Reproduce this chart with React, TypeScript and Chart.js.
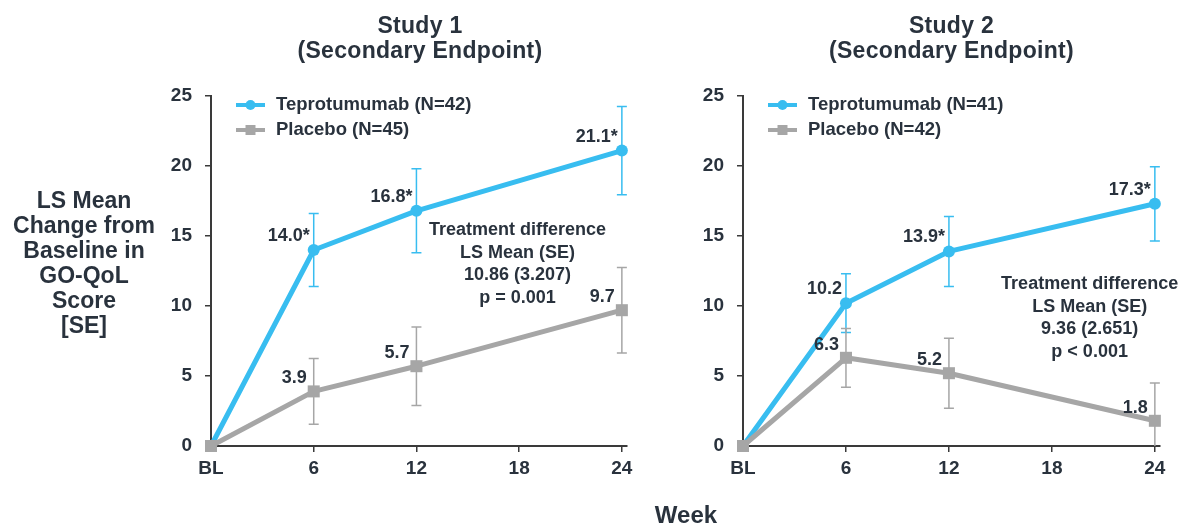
import React, { useEffect, useRef } from 'react';
import { Chart, registerables } from 'chart.js';

Chart.register(...registerables);

// ---------- data ----------
const WEEKS = [0, 6, 12, 24];
const X_TICKS = [0, 6, 12, 18, 24];
const X_TICK_LABELS = ['BL', '6', '12', '18', '24'];
const Y_TICKS = [0, 5, 10, 15, 20, 25];

const S1_TEP = [0, 14.0, 16.8, 21.1];
const S1_TEP_SE = [0, 2.6, 3.0, 3.15];
const S1_TEP_LABELS = ['', '14.0*', '16.8*', '21.1*'];
const S1_PBO = [0, 3.9, 5.7, 9.7];
const S1_PBO_SE = [0, 2.35, 2.8, 3.05];
const S1_PBO_LABELS = ['', '3.9', '5.7', '9.7'];

const S2_TEP = [0, 10.2, 13.9, 17.3];
const S2_TEP_SE = [0, 2.1, 2.5, 2.65];
const S2_TEP_LABELS = ['', '10.2', '13.9*', '17.3*'];
const S2_PBO = [0, 6.3, 5.2, 1.8];
const S2_PBO_SE = [0, 2.1, 2.5, 2.7];
const S2_PBO_LABELS = ['', '6.3', '5.2', '1.8'];

const S1_LEGEND = ['Teprotumumab (N=42)', 'Placebo (N=45)'];
const S2_LEGEND = ['Teprotumumab (N=41)', 'Placebo (N=42)'];
const S1_NOTE = ['Treatment difference', 'LS Mean (SE)', '10.86 (3.207)', 'p = 0.001'];
const S2_NOTE = ['Treatment difference', 'LS Mean (SE)', '9.36 (2.651)', 'p < 0.001'];
const S1_TITLE = ['Study 1', '(Secondary Endpoint)'];
const S2_TITLE = ['Study 2', '(Secondary Endpoint)'];
const Y_LABEL = ['LS Mean', 'Change from', 'Baseline in', 'GO-QoL', 'Score', '[SE]'];
const X_LABEL = 'Week';

// ---------- styles ----------
const BLUE = '#38bdf0';
const GRAY = '#a6a6a6';
const TEXT = '#29323d';
const AXIS = '#3a3a3a';
const FONT = '"Liberation Sans", Arial, Helvetica, sans-serif';

type Series = { values: number[]; se: number[]; labels: string[]; color: string; marker: 'circle' | 'rect'; dx: number; dy: number };

type StudyProps = {
  left: number;
  width: number;
  height: number;
  yWidth: number;
  padRight: number;
  padTop: number;
  xHeight: number;
  tep: Series;
  pbo: Series;
  legend: string[];
  note: string[];
  noteAt: { x: number; y: number };
};

function StudyChart(p: StudyProps) {
  const ref = useRef<HTMLCanvasElement>(null);

  useEffect(() => {
    const canvas = ref.current;
    if (!canvas) return;

    const series = [p.tep, p.pbo];

    const extras = {
      id: 'extras',
      beforeDatasetsDraw(chart: any) {
        const { ctx, chartArea, scales } = chart;
        const x = scales.x;
        const y = scales.y;
        ctx.save();
        ctx.beginPath();
        ctx.rect(chartArea.left - 10, chartArea.top - 20, chartArea.right - chartArea.left + 20, chartArea.bottom - chartArea.top + 20);
        ctx.clip();
        series.forEach((s) => {
          ctx.strokeStyle = s.color;
          ctx.lineWidth = 1.5;
          WEEKS.forEach((w, i) => {
            const se = s.se[i];
            if (!se) return;
            const px = x.getPixelForValue(w);
            const top = y.getPixelForValue(s.values[i] + se);
            const bot = y.getPixelForValue(s.values[i] - se);
            ctx.beginPath();
            ctx.moveTo(px, top);
            ctx.lineTo(px, bot);
            ctx.moveTo(px - 5, top);
            ctx.lineTo(px + 5, top);
            ctx.moveTo(px - 5, bot);
            ctx.lineTo(px + 5, bot);
            ctx.stroke();
          });
        });
        ctx.restore();
      },
      afterDatasetsDraw(chart: any) {
        const { ctx, chartArea, scales } = chart;
        const x = scales.x;
        const y = scales.y;
        ctx.save();
        // data labels
        ctx.fillStyle = TEXT;
        ctx.font = `bold 18px ${FONT}`;
        ctx.textAlign = 'right';
        ctx.textBaseline = 'middle';
        series.forEach((s) => {
          WEEKS.forEach((w, i) => {
            const t = s.labels[i];
            if (!t) return;
            const px = x.getPixelForValue(w);
            const py = y.getPixelForValue(s.values[i]);
            ctx.fillText(t, px + s.dx, py + s.dy);
          });
        });
        // legend
        const lx = chartArea.left + 25;
        const ly = [chartArea.top + 9, chartArea.top + 34];
        series.forEach((s, i) => {
          const yy = ly[i];
          ctx.strokeStyle = s.color;
          ctx.fillStyle = s.color;
          ctx.lineWidth = 4;
          ctx.beginPath();
          ctx.moveTo(lx, yy);
          ctx.lineTo(lx + 29, yy);
          ctx.stroke();
          const cx = lx + 14.5;
          ctx.beginPath();
          if (s.marker === 'circle') {
            ctx.arc(cx, yy, 5, 0, Math.PI * 2);
          } else {
            ctx.rect(cx - 5, yy - 5, 10, 10);
          }
          ctx.fill();
          ctx.fillStyle = TEXT;
          ctx.font = `bold 18.5px ${FONT}`;
          ctx.textAlign = 'left';
          ctx.textBaseline = 'middle';
          ctx.fillText(p.legend[i], chartArea.left + 65, yy);
        });
        // treatment difference note
        ctx.fillStyle = TEXT;
        ctx.font = `bold 18px ${FONT}`;
        ctx.textAlign = 'center';
        ctx.textBaseline = 'middle';
        const nx = x.getPixelForValue(p.noteAt.x);
        const ny = y.getPixelForValue(p.noteAt.y);
        const lh = 22.5;
        p.note.forEach((t, i) => {
          ctx.fillText(t, nx, ny + (i - (p.note.length - 1) / 2) * lh);
        });
        ctx.restore();
      },
    };

    const mk = (s: Series, label: string, order: number) => ({
      label,
      data: WEEKS.map((w, i) => ({ x: w, y: s.values[i] })),
      borderColor: s.color,
      backgroundColor: s.color,
      borderWidth: 5,
      borderJoinStyle: 'round' as const,
      borderCapStyle: 'round' as const,
      pointStyle: s.marker,
      pointRadius: s.marker === 'circle' ? 6 : 8.5,
      pointBorderWidth: 0,
      pointBackgroundColor: s.color,
      tension: 0,
      clip: false,
      order,
    });

    const tickFont = { family: FONT, size: 19, weight: 'bold' as const };

    const chart = new Chart(canvas, {
      type: 'line',
      data: {
        datasets: [mk(p.tep, p.legend[0], 1), mk(p.pbo, p.legend[1], 0)],
      },
      options: {
        responsive: false,
        animation: false,
        devicePixelRatio: 1,
        layout: { padding: { top: p.padTop, right: p.padRight, bottom: 0, left: 0 } },
        plugins: {
          legend: { display: false },
          tooltip: { enabled: false },
          title: { display: false },
        },
        scales: {
          x: {
            type: 'linear',
            min: 0,
            max: 24.3,
            afterBuildTicks: (scale: any) => {
              scale.ticks = X_TICKS.map((v) => ({ value: v }));
            },
            afterFit: (scale: any) => {
              scale.height = p.xHeight;
            },
            ticks: {
              autoSkip: false,
              maxRotation: 0,
              padding: 5,
              color: TEXT,
              font: tickFont,
              callback: (v: any) => X_TICK_LABELS[X_TICKS.indexOf(Number(v))] ?? '',
            },
            grid: { display: true, drawOnChartArea: false, drawTicks: true, tickLength: 6, color: AXIS, lineWidth: 1.5 },
            border: { display: true, color: AXIS, width: 2 },
          },
          y: {
            type: 'linear',
            min: 0,
            max: 25,
            afterBuildTicks: (scale: any) => {
              scale.ticks = Y_TICKS.map((v) => ({ value: v }));
            },
            afterFit: (scale: any) => {
              scale.width = p.yWidth;
            },
            ticks: {
              padding: 13,
              color: TEXT,
              font: tickFont,
              callback: (v: any) => String(v),
            },
            grid: { display: true, drawOnChartArea: false, drawTicks: true, tickLength: 6, color: AXIS, lineWidth: 1.5 },
            border: { display: true, color: AXIS, width: 2 },
          },
        },
      },
      plugins: [extras],
    } as any);

    return () => chart.destroy();
  }, []);

  return (
    <canvas
      ref={ref}
      width={p.width}
      height={p.height}
      style={{ position: 'absolute', left: p.left, top: 0, width: p.width, height: p.height }}
    />
  );
}

const titleStyle = (center: number): React.CSSProperties => ({
  position: 'absolute',
  left: center - 200,
  width: 400,
  top: 12.5,
  textAlign: 'center',
  fontFamily: FONT,
  fontWeight: 'bold',
  fontSize: 23,
  lineHeight: '25px',
  letterSpacing: '0.3px',
  color: TEXT,
  whiteSpace: 'pre',
});

export default function App() {
  return (
    <div style={{ position: 'absolute', left: 0, top: 0, width: 1183, height: 527, background: '#ffffff', overflow: 'hidden' }}>
      <StudyChart
        left={0}
        width={640}
        height={527}
        yWidth={211}
        padRight={13}
        padTop={96}
        xHeight={81}
        tep={{ values: S1_TEP, se: S1_TEP_SE, labels: S1_TEP_LABELS, color: BLUE, marker: 'circle', dx: -4, dy: -14 }}
        pbo={{ values: S1_PBO, se: S1_PBO_SE, labels: S1_PBO_LABELS, color: GRAY, marker: 'rect', dx: -7, dy: -13 }}
        legend={S1_LEGEND}
        note={S1_NOTE}
        noteAt={{ x: 17.9, y: 13 }}
      />
      <StudyChart
        left={600}
        width={583}
        height={527}
        yWidth={143}
        padRight={23}
        padTop={96}
        xHeight={81}
        tep={{ values: S2_TEP, se: S2_TEP_SE, labels: S2_TEP_LABELS, color: BLUE, marker: 'circle', dx: -4, dy: -14 }}
        pbo={{ values: S2_PBO, se: S2_PBO_SE, labels: S2_PBO_LABELS, color: GRAY, marker: 'rect', dx: -7, dy: -13 }}
        legend={S2_LEGEND}
        note={S2_NOTE}
        noteAt={{ x: 20.2, y: 9.15 }}
      />
      <div style={titleStyle(420)}>{S1_TITLE.join('\n')}</div>
      <div style={titleStyle(951.5)}>{S2_TITLE.join('\n')}</div>
      <div
        style={{
          position: 'absolute',
          left: 0,
          width: 168,
          top: 187.8,
          textAlign: 'center',
          fontFamily: FONT,
          fontWeight: 'bold',
          fontSize: 23,
          lineHeight: '25px',
          color: TEXT,
          whiteSpace: 'pre',
        }}
      >
        {Y_LABEL.join('\n')}
      </div>
      <div
        style={{
          position: 'absolute',
          left: 586,
          width: 200,
          top: 501.7,
          textAlign: 'center',
          fontFamily: FONT,
          fontWeight: 'bold',
          fontSize: 24,
          lineHeight: '26px',
          color: TEXT,
        }}
      >
        {X_LABEL}
      </div>
    </div>
  );
}
